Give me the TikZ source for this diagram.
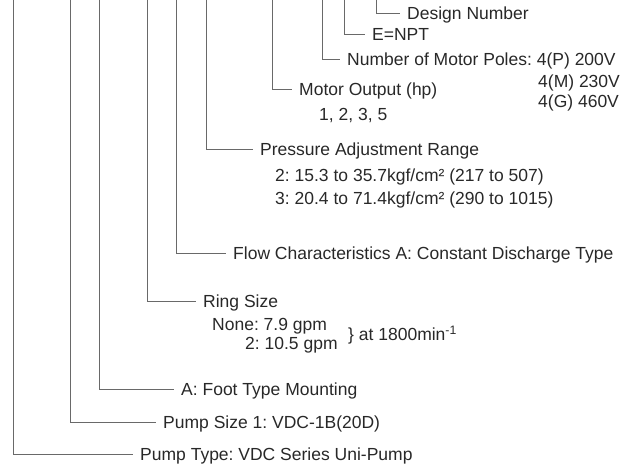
\documentclass[tikz,border=0pt]{standalone}
\usepackage{fontspec}
\setmainfont{Liberation Sans}
\usepackage{tikz}
\usetikzlibrary{positioning}
\definecolor{linegray}{RGB}{105,105,105}
\definecolor{textgray}{RGB}{40,40,40}
\frenchspacing

\begin{document}
\begin{tikzpicture}[
    x=1pt, y=-1pt,
    lbl/.style={
        anchor=west,
        inner xsep=7pt,
        inner ysep=0pt,
        text height=12.6pt,
        text depth=0pt,
        text=textgray,
        font=\fontsize{17.5}{20}\selectfont
    },
    sub/.style={lbl, inner xsep=0pt},
    leader/.style={draw=linegray, line width=0.9pt}
]
\useasboundingbox (0,0) rectangle (622,468);

\coordinate (design top) at (376,0);
\coordinate (npt top) at (344,0);
\coordinate (poles top) at (322,0);
\coordinate (motor top) at (272,0);
\coordinate (pressure top) at (206,0);
\coordinate (flow top) at (176,0);
\coordinate (ring top) at (147,0);
\coordinate (mount top) at (99,0);
\coordinate (size top) at (70,0);
\coordinate (ptype top) at (13,0);

\node[lbl] (design) at (400,13) {Design Number};
\node[lbl] (npt) at (365,34) {E=NPT};
\node[lbl] (poles) at (340,59) {Number of Motor Poles: 4(P) 200V};
\node[sub] (poles m) at (538,81) {4(M) 230V};
\node[sub] (poles g) at (538,101) {4(G) 460V};

\node[lbl] (motor) at (292,89) {Motor Output (hp)};
\node[sub] (motor val) at (319,114) {1, 2, 3, 5};

\node[lbl] (pressure) at (253,149) {Pressure Adjustment Range};
\node[sub] (pressure two) at (275,175) {2: 15.3 to 35.7kgf/cm² (217 to 507)};
\node[sub] (pressure three) at (275,198) {3: 20.4 to 71.4kgf/cm² (290 to 1015)};

\node[lbl] (flow) at (226,253) {Flow Characteristics A: Constant Discharge Type};

\node[lbl] (ring) at (196,301) {Ring Size};
\node[sub] (ring none) at (212,324) {None: 7.9 gpm};
\node[sub] (ring two) at (245,343) {2: 10.5 gpm};
\node[sub] (ring speed) at (348,334) {\}~at 1800min\textsuperscript{-1}};

\node[lbl] (mount) at (174,389) {A: Foot Type Mounting};
\node[lbl] (size) at (156,422) {Pump Size 1: VDC-1B(20D)};
\node[lbl] (ptype) at (133,454) {Pump Type: VDC Series Uni-Pump};

\draw[leader] (design top) |- (design.west);
\draw[leader] (npt top) |- (npt.west);
\draw[leader] (poles top) |- (poles.west);
\draw[leader] (motor top) |- (motor.west);
\draw[leader] (pressure top) |- (pressure.west);
\draw[leader] (flow top) |- (flow.west);
\draw[leader] (ring top) |- (ring.west);
\draw[leader] (mount top) |- (mount.west);
\draw[leader] (size top) |- (size.west);
\draw[leader] (ptype top) |- (ptype.west);

\end{tikzpicture}
\end{document}
